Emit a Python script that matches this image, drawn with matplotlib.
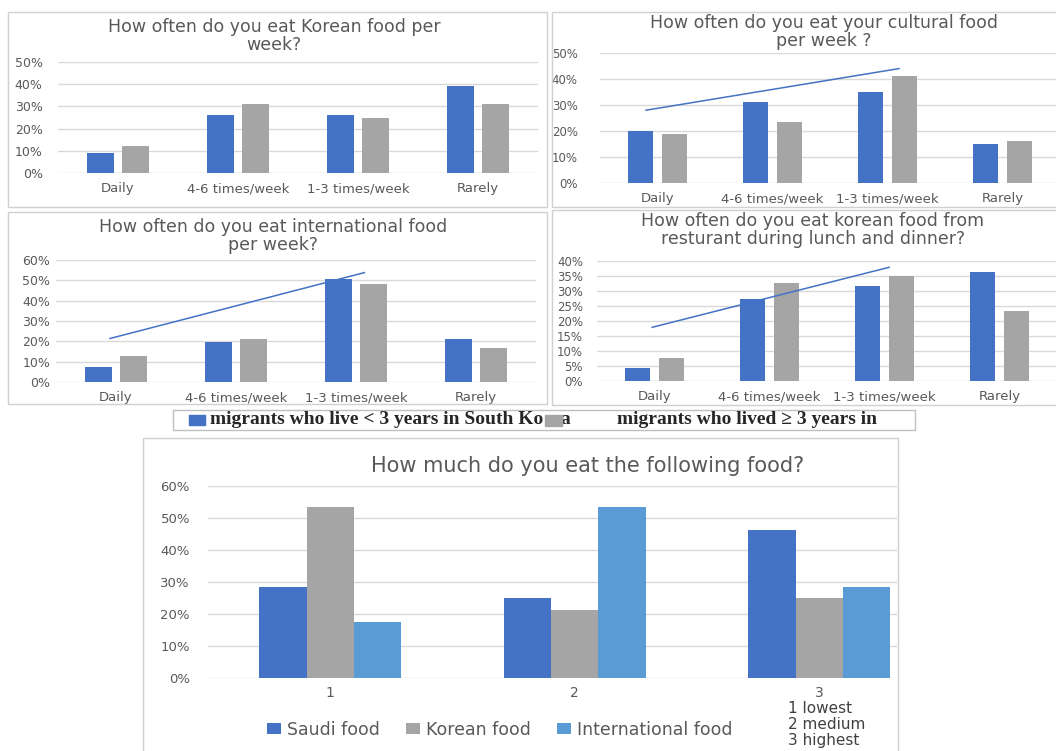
import numpy as np
import matplotlib
matplotlib.use("Agg")
import matplotlib.pyplot as plt
from matplotlib.patches import Rectangle
from matplotlib.ticker import MultipleLocator, PercentFormatter

# weekly frequency answers, split by length of stay
CATEGORIES = ["Daily", "4-6 times/week", "1-3 times/week", "Rarely"]

korean_lt3 = [9, 26, 26, 39]
korean_ge3 = [12, 31, 25, 31]

cultural_lt3 = [20, 31, 35, 15]
cultural_ge3 = [19, 23.5, 41, 16]
cultural_trend_x = [-0.1, 2.1]
cultural_trend_y = [28, 44]

intl_lt3 = [7.5, 19.5, 50.5, 21]
intl_ge3 = [13, 21, 48, 16.5]
intl_trend_x = [-0.05, 2.07]
intl_trend_y = [21.4, 53.8]

restaurant_lt3 = [4.2, 27.2, 31.6, 36.2]
restaurant_ge3 = [7.6, 32.6, 35.1, 23.4]
restaurant_trend_x = [-0.02, 2.04]
restaurant_trend_y = [17.9, 37.9]

SERIES_LABELS = ["migrants who live < 3 years in South Ko", "migrants who lived \u2265 3 years in"]

# how much of each food (1 lowest .. 3 highest)
LEVELS = ["1", "2", "3"]
saudi_food = [28.5, 25, 46.3]
korean_food = [53.4, 21.2, 25]
international_food = [17.4, 53.4, 28.5]
FOOD_LABELS = ["Saudi food", "Korean food", "International food"]

BLUE = "#4472C4"
GRAY = "#A5A5A5"
LIGHT_BLUE = "#5B9BD5"
TEXT = "#595959"
GRID = "#D9D9D9"
FRAME = "#D0D0D0"

W, H = 1056, 751


def fig_box(left, top, right, bottom):
    return [left / W, 1 - bottom / H, (right - left) / W, (bottom - top) / H]


def frame(fig, left, top, right, bottom, color=FRAME, lw=1.0):
    fig.add_artist(Rectangle((left / W, 1 - bottom / H), (right - left) / W,
                             (bottom - top) / H, transform=fig.transFigure,
                             fill=False, edgecolor=color, lw=lw))


def fig_text(fig, x, y, s, **kw):
    return fig.text(x / W, 1 - y / H, s, **kw)


def style_axes(ax, ymax, ystep, ypad, xpad, ysize, xsize):
    ax.set_ylim(0, ymax)
    ax.yaxis.set_major_locator(MultipleLocator(ystep))
    ax.yaxis.set_major_formatter(PercentFormatter(decimals=0))
    ax.grid(axis="y", color=GRID, lw=1.0)
    ax.set_axisbelow(True)
    for side in ("top", "right", "left", "bottom"):
        ax.spines[side].set_visible(False)
    ax.tick_params(axis="y", length=0, pad=ypad, labelsize=ysize, labelcolor=TEXT)
    ax.tick_params(axis="x", length=0, pad=xpad, labelsize=xsize, labelcolor=TEXT)
    ax.patch.set_alpha(0)


def week_panel(fig, plot_px, step_px, title, title_xy, lt3, ge3, ymax, ystep,
               ypad, ysize=9, trend=None):
    left, top, right, bottom = plot_px
    ax = fig.add_axes(fig_box(*plot_px))
    x = np.arange(len(CATEGORIES))
    width, offset = 0.22, 0.145
    ax.bar(x - offset, lt3, width, color=BLUE)
    ax.bar(x + offset, ge3, width, color=GRAY)
    if trend is not None:
        ax.plot(trend[0], trend[1], color=BLUE, lw=1.1)
    ax.set_xlim(-0.5, -0.5 + (right - left) / step_px)
    ax.set_xticks(x, CATEGORIES)
    style_axes(ax, ymax, ystep, ypad, 6.5, ysize, 9.5)
    fig_text(fig, title_xy[0], title_xy[1], title, ha="center", va="center",
             fontsize=12.5, color=TEXT, linespacing=1.0)
    return ax


fig = plt.figure(figsize=(W / 100, H / 100), dpi=100)
fig.patch.set_facecolor("white")

# panel frames
frame(fig, 8, 12, 547, 207)
frame(fig, 552, 12, 1062, 207)
frame(fig, 8, 212, 547, 404)
frame(fig, 552, 210, 1062, 405)
frame(fig, 173, 410, 915, 430, color="#BFBFBF")
frame(fig, 143, 438, 898, 760)

week_panel(fig, (58, 62, 538, 173), 120,
           "How often do you eat Korean food per\nweek?", (274, 36.5),
           korean_lt3, korean_ge3, 50, 10, 11)
week_panel(fig, (600, 53, 1056, 183), 115,
           "How often do you eat your cultural food\nper week ?", (824, 31.5),
           cultural_lt3, cultural_ge3, 50, 10, 16, ysize=8.5,
           trend=(cultural_trend_x, cultural_trend_y))
week_panel(fig, (56, 260, 536, 382), 120,
           "How often do you eat international food\nper week?", (273, 236.5),
           intl_lt3, intl_ge3, 60, 10, 4,
           trend=(intl_trend_x, intl_trend_y))
week_panel(fig, (597, 261, 1056, 381), 115,
           "How often do you eat korean food from\nresturant during lunch and dinner?",
           (813, 230.5), restaurant_lt3, restaurant_ge3, 40, 5, 10, ysize=8.5,
           trend=(restaurant_trend_x, restaurant_trend_y))

# shared legend for the four weekly panels
serif = dict(family="Liberation Serif", fontweight="bold", fontsize=14,
             color="#262626", va="center", ha="left")
fig.add_artist(Rectangle((189 / W, 1 - 425 / H), 16 / W, 10 / H,
                         transform=fig.transFigure, color=BLUE))
fig_text(fig, 210, 420, SERIES_LABELS[0], **serif)
fig_text(fig, 560, 420, "a", **serif)
fig.add_artist(Rectangle((545 / W, 1 - 426 / H), 17 / W, 11 / H,
                         transform=fig.transFigure, color=GRAY, zorder=5))
fig_text(fig, 617, 420, SERIES_LABELS[1], **serif)

# bottom chart
left, top, right, bottom = 208, 486, 897, 678
step = 244.5
ax = fig.add_axes(fig_box(left, top, right, bottom))
x = np.arange(len(LEVELS))
bw = 0.193
ax.bar(x - bw, saudi_food, bw, color=BLUE, label=FOOD_LABELS[0])
ax.bar(x, korean_food, bw, color=GRAY, label=FOOD_LABELS[1])
ax.bar(x + bw, international_food, bw, color=LIGHT_BLUE, label=FOOD_LABELS[2])
ax.set_xlim(-0.5, -0.5 + (right - left) / step)
ax.set_xticks(x, LEVELS)
style_axes(ax, 60, 10, 13, 5.5, 9.5, 10)
fig_text(fig, 587.5, 466, "How much do you eat the following food?", ha="center",
         va="center", fontsize=15, color=TEXT)
ax.legend(loc="center", bbox_to_anchor=(500 / W, 1 - 730 / H),
          bbox_transform=fig.transFigure, ncol=3, frameon=False, fontsize=12.5,
          handlelength=0.8, handleheight=0.6, handletextpad=0.35,
          columnspacing=1.5, labelcolor=TEXT)
fig_text(fig, 788, 701, "1 lowest\n2 medium\n3 highest", ha="left", va="top",
         fontsize=11, color="#404040", linespacing=1.1)

fig.savefig("out.png", dpi=100)
